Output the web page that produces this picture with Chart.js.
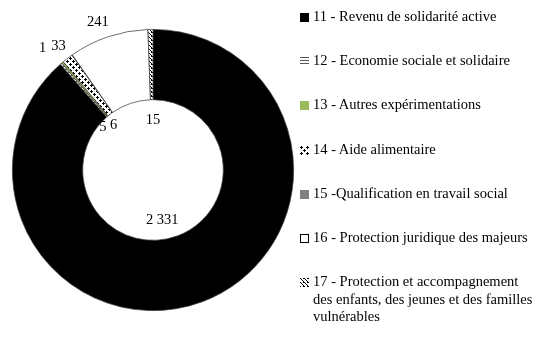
<!DOCTYPE html>
<html>
<head>
<meta charset="utf-8">
<script src="https://cdn.jsdelivr.net/npm/chart.js@4.4.1/dist/chart.umd.min.js"></script>
<style>
  html, body { margin: 0; padding: 0; background: #fff; }
  #wrap { position: relative; width: 542px; height: 340px; font-family: "Liberation Serif", "DejaVu Serif", serif; }
  #chart-box { position: absolute; left: 0; top: 0; width: 306px; height: 340px; }
  #legend { position: absolute; left: 300px; top: 0; width: 242px; }
  .item { position: absolute; left: 0; display: flex; align-items: flex-start; font-size: 14.5px; line-height: 17.5px; color: #000; }
  .item canvas { flex: none; margin-top: 5px; margin-right: 4px; }
</style>
</head>
<body>
<div id="wrap">
  <div id="chart-box"><canvas id="donut"></canvas></div>
  <div id="legend"></div>
</div>
<script>
// Data
const categories = [
    '11 - Revenu de solidarité active',
    '12 - Economie sociale et solidaire',
    '13 - Autres expérimentations',
    '14 - Aide alimentaire',
    '15 -Qualification en travail social',
    '16 - Protection juridique des majeurs',
    '17 - Protection et accompagnement des enfants, des jeunes et des familles vulnérables'
];
const values = [2331, 5, 6, 33, 1, 241, 15];

// Label placement: radius factor (of outer radius) and angle nudge in degrees
const labelRadius = [0.36, 0.47, 0.425, 1.105, 1.17, 1.12, 0.355];
const labelNudge = [10, -8.5, -1, 0, -7, -2, 1];

// Fill patterns
function makePattern(kind) {
    const c = document.createElement('canvas');
    const g = c.getContext('2d');
    if (kind === 'hlines') {
        c.width = 4; c.height = 3;
        g.fillStyle = '#fff'; g.fillRect(0, 0, 4, 3);
        g.fillStyle = '#555'; g.fillRect(0, 0, 4, 1);
    } else if (kind === 'dots') {
        c.width = 6; c.height = 6;
        g.fillStyle = '#fff'; g.fillRect(0, 0, 6, 6);
        g.fillStyle = '#000';
        [[1, 1], [4, 4]].forEach(([x, y]) => {
            g.fillRect(x - 1, y, 3, 1);
            g.fillRect(x, y - 1, 1, 3);
        });
    } else if (kind === 'diag') {
        c.width = 4; c.height = 4;
        g.fillStyle = '#fff'; g.fillRect(0, 0, 4, 4);
        g.fillStyle = '#000';
        for (let i = 0; i < 4; i++) g.fillRect(i, i, 1, 1);
        g.fillRect(3, 0, 1, 1);
    }
    return c;
}

const donutCtx = document.getElementById('donut').getContext('2d');
const fills = [
    '#000000',
    donutCtx.createPattern(makePattern('hlines'), 'repeat'),
    '#9bbb59',
    donutCtx.createPattern(makePattern('dots'), 'repeat'),
    '#808080',
    '#ffffff',
    donutCtx.createPattern(makePattern('diag'), 'repeat')
];

// Value labels around the ring
const valueLabels = {
    id: 'valueLabels',
    afterDatasetsDraw(chart) {
        const ctx = chart.ctx;
        const meta = chart.getDatasetMeta(0);
        ctx.save();
        ctx.font = '14.5px "Liberation Serif", serif';
        ctx.fillStyle = '#000';
        ctx.textAlign = 'center';
        ctx.textBaseline = 'middle';
        meta.data.forEach((arc, i) => {
            const mid = (arc.startAngle + arc.endAngle) / 2 + labelNudge[i] * Math.PI / 180;
            const r = arc.outerRadius * labelRadius[i];
            const txt = values[i].toLocaleString('fr-FR').replace(/\u202f|\u00a0/g, ' ');
            ctx.fillText(txt, arc.x + Math.cos(mid) * r, arc.y + Math.sin(mid) * r);
        });
        ctx.restore();
    }
};

new Chart(donutCtx, {
    type: 'doughnut',
    data: {
        labels: categories,
        datasets: [{
            data: values,
            backgroundColor: fills,
            borderColor: '#404040',
            borderWidth: 0.75
        }]
    },
    options: {
        responsive: true,
        maintainAspectRatio: false,
        animation: false,
        cutout: '50%',
        layout: { padding: { left: 12, right: 12, top: 0, bottom: 0 } },
        plugins: { legend: { display: false }, tooltip: { enabled: false } }
    },
    plugins: [valueLabels]
});

// HTML legend
const legendTops = [8, 52, 96, 141, 185, 229, 273];
const legend = document.getElementById('legend');
categories.forEach((name, i) => {
    const item = document.createElement('div');
    item.className = 'item';
    item.style.top = legendTops[i] + 'px';
    const sw = document.createElement('canvas');
    sw.width = 9; sw.height = 9;
    const g = sw.getContext('2d');
    if (typeof fills[i] === 'string') {
        g.fillStyle = fills[i];
    } else {
        g.fillStyle = g.createPattern(makePattern(['', 'hlines', '', 'dots', '', '', 'diag'][i]), 'repeat');
    }
    g.fillRect(0, 0, 9, 9);
    if (i === 5) { g.strokeStyle = '#000'; g.strokeRect(0.5, 0.5, 8, 8); }
    const label = document.createElement('span');
    label.textContent = name;
    if (i === 6) label.style.width = '228px';
    item.appendChild(sw);
    item.appendChild(label);
    legend.appendChild(item);
});
</script>
</body>
</html>
